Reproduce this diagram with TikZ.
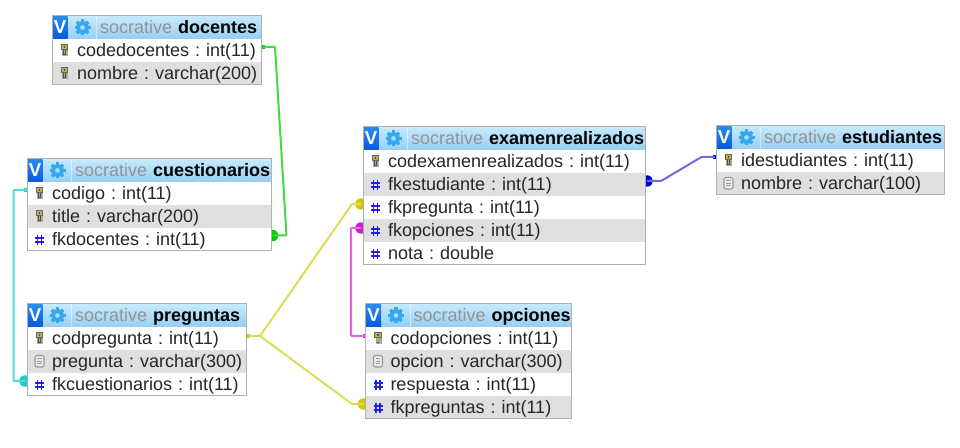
\documentclass[tikz,border=0pt]{standalone}
\usepackage{fontspec}
\setmainfont{Liberation Sans}
\frenchspacing
\usetikzlibrary{calc,backgrounds}
\definecolor{rowgray}{HTML}{DFDFDF}
\definecolor{edgegray}{HTML}{B0B0B0}
\definecolor{hdrtop}{HTML}{C6EAFC}
\definecolor{hdrbot}{HTML}{97CEF3}
\definecolor{vtop}{HTML}{2A8BEC}
\definecolor{vbot}{HTML}{0559DF}
\definecolor{gearblue}{HTML}{35A8F0}
\definecolor{hashblue}{HTML}{2020E8}
\definecolor{lgreen}{HTML}{44D844}
\definecolor{lcyan}{HTML}{55D8D8}
\definecolor{lyellow}{HTML}{DDDD55}
\definecolor{lmagenta}{HTML}{E466E4}
\definecolor{lblue}{HTML}{6A6AE8}
\definecolor{dgreen}{HTML}{00CC00}
\definecolor{dcyan}{HTML}{22CCCC}
\definecolor{dyellow}{HTML}{CCCC00}
\definecolor{dmagenta}{HTML}{CC22CC}
\definecolor{dblue}{HTML}{0000CC}
\tikzset{
  tablerow/.style={inner sep=0pt,outer sep=0pt,anchor=north west,minimum height=17.25pt,
    text height=11.2pt,text depth=2.6pt,align=left,font=\fontsize{13.5}{15}\selectfont,text=black!85},
  tablehead/.style={tablerow,top color=hdrtop,bottom color=hdrbot,text=black},
  vbutton/.style={inner sep=0pt,outer sep=0pt,minimum width=11.25pt,minimum height=16.5pt,
    top color=vtop,bottom color=vbot,text=white,font=\bfseries\fontsize{14}{15}\selectfont},
  tableedge/.style={draw=edgegray,line width=0.75pt},
  link/.style={line width=1.5pt,line join=round,rounded corners=0.6pt},
  disk/.style={circle,inner sep=0pt,minimum size=8.6pt},
  port/.style={inner sep=0pt,minimum size=3.6pt}
}
\newcommand{\iconkey}[1]{\begin{scope}[shift={#1}]
  \fill[black!35] (-2.4,-1) rectangle (3.6,6.5);
  \fill[black!70] (-1.4,0) rectangle (1.4,5.8);
  \fill[black!60] (-3.6,-5.5) rectangle (3.6,0.5);
  \fill[yellow!65!black!90] (-2.6,-4.6) rectangle (2.6,0);
  \fill[black!70] (-0.9,-3.2) rectangle (0.9,-1.6);
  \fill[yellow!65!black!90] (-0.6,0.5) rectangle (0.6,5);
\end{scope}}
\newcommand{\icondoc}[1]{\begin{scope}[shift={#1}]
  \draw[black!40,fill=white!92!black,line width=0.8pt,rounded corners=1.5pt] (-4.5,-5) rectangle (4.5,6.5);
  \draw[black!40,line width=0.7pt] (-2.2,-2)--(2.2,-2) (-2.2,0.7)--(2.2,0.7) (-2.2,3.4)--(2.2,3.4);
\end{scope}}
\newcommand{\iconhash}[1]{\begin{scope}[shift={#1}]
  \draw[hashblue,line width=1.2pt] (-2,-3.5)--(-2,7) (2,-3.5)--(2,7) (-4.5,-0.5)--(4.5,-0.5) (-4.5,3.5)--(4.5,3.5);
\end{scope}}
\newcommand{\icongear}[1]{\begin{scope}[shift={#1}]
  \foreach \a in {0,45,...,315}
    \draw[gearblue,line width=2.6pt] (\a:5)--(\a:8);
  \draw[gearblue,line width=3pt] (0,0) circle (4.6);
\end{scope}}
% \dbtable{prefix}{x}{y}{w}{name}{icon/text,...}
\newcommand{\dbtable}[6]{
  \node[tablehead,text width=#4*0.75pt,minimum width=#4*0.75pt] (#1) at (#2,#3)
    {\hspace*{36pt}\mbox{\textcolor{black!42}{socrative} \textbf{#5}}};
  \node[vbutton] (#1v) at (#2+8,#3+11.5) {V};
  \draw[white,opacity=.45,line width=0.6pt] (#2+44.5,#3) -- (#2+44.5,#3+23);
  \icongear{($(#1.west)+(30.5,0)$)}
  \foreach \ic/\tx [count=\i] in {#6} {
    \pgfmathsetmacro{\yy}{#3+23*\i}
    \ifodd\i\def\rf{white}\else\def\rf{rowgray}\fi
    \node[tablerow,fill=\rf,text width=#4*0.75pt,minimum width=#4*0.75pt] (#1\i) at (#2,\yy)
      {\hspace*{18.75pt}\mbox{\tx}};
    \csname icon\ic\endcsname{($(#1\i.west)+(12.5,-1)$)}
    \coordinate (#1last) at ($(#2,\yy)+(#4,23)$);
  }
  \draw[tableedge] (#1.north west) rectangle (#1last);
}
\begin{document}
\begin{tikzpicture}[x=0.75pt,y=-0.75pt]
\useasboundingbox (0,0) rectangle (960,448);
\dbtable{doc}{52}{16}{209}{docentes}{key/codedocentes : int(11),key/nombre : varchar(200)}
\dbtable{cue}{27}{159}{244}{cuestionarios}{key/codigo : int(11),key/title : varchar(200),hash/fkdocentes : int(11)}
\dbtable{pre}{27}{304}{219}{preguntas}{key/codpregunta : int(11),doc/pregunta : varchar(300),hash/fkcuestionarios : int(11)}
\dbtable{exa}{363}{127}{282}{examenrealizados}{key/codexamenrealizados : int(11),hash/fkestudiante : int(11),hash/fkpregunta : int(11),hash/fkopciones : int(11),hash/nota : double}
\dbtable{opc}{365.5}{304}{205.5}{opciones}{key/codopciones : int(11),doc/opcion : varchar(300),hash/respuesta : int(11),hash/fkpreguntas : int(11)}
\dbtable{est}{716}{126}{228}{estudiantes}{key/idestudiantes : int(11),doc/nombre : varchar(100)}
\begin{pgfonlayer}{background}
  % ports on the referenced side, disks on the referencing side
  \node[port,fill=dgreen] (p1) at ($(doc1.east)+(2,-3.5)$) {};
  \node[disk,fill=dgreen] (d1) at ($(cue3.east)+(1.5,-4)$) {};
  \coordinate (b1a) at (275,47);
  \coordinate (b1b) at (286.5,235.5);
  \draw[link,lgreen] (p1.center) -- (b1a) -- (b1b) -- (d1.center);

  \node[port,fill=dcyan] (p2) at ($(cue1.west)+(-1,-3.5)$) {};
  \node[disk,fill=dcyan] (d2) at ($(pre3.west)+(-2,-3.5)$) {};
  \coordinate (b2a) at (13.5,190);
  \coordinate (b2b) at (13.5,381);
  \draw[link,lcyan] (p2.center) -- (b2a) -- (b2b) -- (d2.center);

  \node[port,fill=dyellow] (p3) at ($(pre1.east)+(2,-2.5)$) {};
  \coordinate (b3) at (260,336);
  \node[disk,fill=dyellow] (d3) at ($(exa3.west)+(-2,-3.5)$) {};
  \node[disk,fill=dyellow] (d4) at ($(opc4.west)+(-2,-3.5)$) {};
  \coordinate (b3a) at (352,204);
  \coordinate (b3b) at (352,404);
  \draw[link,lyellow] (p3.center) -- (b3) -- (b3a) -- (d3.center);
  \draw[link,lyellow] (b3) -- (b3b) -- (d4.center);

  \node[port,fill=dmagenta] (p5) at ($(opc1.west)+(-0.5,-2.5)$) {};
  \node[disk,fill=dmagenta] (d5) at ($(exa4.west)+(-2,-2.5)$) {};
  \coordinate (b5a) at (351,336);
  \coordinate (b5b) at (351,228);
  \draw[link,lmagenta] (p5.center) -- (b5a) -- (b5b) -- (d5.center);

  \node[port,fill=dblue] (p6) at ($(est1.west)+(-1,-3.5)$) {};
  \node[disk,fill=dblue] (d6) at ($(exa2.east)+(2,-3.5)$) {};
  \coordinate (b6a) at (701.5,157);
  \coordinate (b6b) at (661,181);
  \draw[link,lblue] (p6.center) -- (b6a) -- (b6b) -- (d6.center);
\end{pgfonlayer}
\end{tikzpicture}
\end{document}
